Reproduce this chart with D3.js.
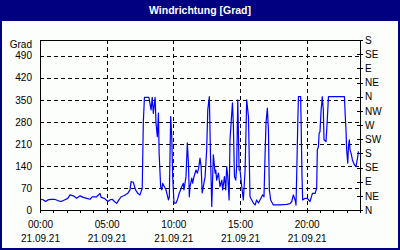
<!DOCTYPE html>
<html>
<head>
<meta charset="utf-8">
<script src="https://cdn.jsdelivr.net/npm/d3@7"></script>
<style>
  body { margin: 0; background: #000080; }
  svg { display: block; }
  text { font-family: "Liberation Sans", Arial, sans-serif; }
</style>
</head>
<body>
<div id="chart"></div>
<script>
// ---------------------------------------------------------------------------
// Data
// ---------------------------------------------------------------------------
const day = "2021-09-21";
const times = [
  "00:05","00:15","00:25","00:35","00:50","01:05","01:20","01:35","01:50","02:05",
  "02:15","02:30","02:45","03:00","03:15","03:30","03:45","03:55","04:15","04:30",
  "04:35","04:50","05:05","05:15","05:25","05:35","05:45","05:55","06:05","06:20",
  "06:35","06:45","06:50","07:00","07:10","07:20","07:30","07:40","07:45","07:50",
  "08:00","08:10","08:20","08:25","08:30","08:38","08:42","08:48","08:53","08:56",
  "09:03","09:08","09:12","09:20","09:27","09:38","09:42","09:48","09:53","09:57",
  "10:03","10:12","10:18","10:27","10:38","10:45","10:48","10:57","11:03","11:08",
  "11:12","11:15","11:23","11:27","11:33","11:42","11:48","11:54","12:00","12:05",
  "12:10","12:15","12:23","12:30","12:35","12:42","12:47","12:53","13:00","13:08",
  "13:11","13:15","13:23","13:30","13:38","13:42","13:50","13:56","14:00","14:05",
  "14:11","14:15","14:20","14:26","14:30","14:35","14:41","14:45","14:50","14:56",
  "15:00","15:08","15:15","15:23","15:30","15:38","15:45","15:53","16:00","16:08",
  "16:15","16:23","16:30","16:42","16:48","16:53","16:57","17:03","17:08","17:12",
  "17:18","17:30","18:00","18:30","18:45","18:53","19:00","19:08","19:12","19:15",
  "19:20","19:23","19:33","19:35","19:39","19:42","19:53","20:03","20:15","20:26",
  "20:38","20:45","20:48","20:53","20:56","21:00","21:05","21:08","21:10","21:15",
  "21:18","21:27","21:32","21:35","21:38","22:00","22:30","22:50","22:53","22:57",
  "23:00","23:05","23:08","23:12","23:15","23:20","23:26","23:35","23:42","23:50",
  "23:53"
];
const values = [
  34, 32, 27, 32, 34, 34, 30, 27, 32, 37,
  48, 45, 37, 45, 40, 37, 34, 42, 42, 53,
  40, 37, 27, 32, 34, 27, 21, 32, 42, 46,
  53, 64, 90, 88, 64, 53, 48, 69, 280, 358,
  358, 358, 318, 358, 307, 358, 276, 233, 308, 181,
  74, 64, 85, 74, 64, 32, 42, 297, 233, 106,
  22, 22, 32, 54, 74, 85, 64, 106, 213, 149,
  42, 74, 101, 85, 106, 127, 117, 133, 165, 138,
  54, 74, 106, 191, 318, 360, 180, 11, 175, 117,
  127, 95, 117, 74, 95, 64, 106, 64, 138, 106,
  32, 223, 276, 340, 276, 106, 95, 138, 350, 127,
  127, 74, 32, 127, 350, 297, 42, 32, 22, 16,
  32, 22, 32, 48, 42, 181, 276, 324, 254, 64,
  32, 16, 16, 18, 20, 27, 48, 32, 16, 106,
  276, 360, 360, 276, 106, 32, 37, 37, 27, 53,
  53, 69, 191, 201, 244, 249, 318, 339, 360, 318,
  223, 217, 276, 318, 360, 360, 360, 360, 308, 254,
  191, 149, 201, 223, 191, 180, 159, 143, 138, 170,
  186
];
const leftTicks = [0, 70, 140, 210, 280, 350, 420, 490];
const rightTicks = [0, 45, 90, 135, 180, 225, 270, 315, 360, 405, 450, 495, 540];
const rightLabels = ["N", "NE", "E", "SE", "S", "SW", "W", "NW", "N", "NE", "E", "SE", "S"];
const title = "Windrichtung [Grad]";
const unit = "Grad";

// ---------------------------------------------------------------------------
// Set up
// ---------------------------------------------------------------------------
const width = 400, height = 250;
const plot = { left: 40, right: 360, top: 40, bottom: 210 };

const parse = d3.timeParse("%Y-%m-%d %H:%M");
const data = times.map((t, i) => ({ date: parse(day + " " + t), value: values[i] }));

const svg = d3.select("#chart").append("svg")
  .attr("width", width)
  .attr("height", height);

// frame + title bar
svg.append("rect").attr("width", width).attr("height", height).attr("fill", "#000080");
svg.append("rect")
  .attr("x", 2).attr("y", 21)
  .attr("width", width - 4).attr("height", height - 23)
  .attr("fill", "#fbfefb");
svg.append("text")
  .attr("x", width / 2).attr("y", 14)
  .attr("text-anchor", "middle")
  .attr("fill", "white")
  .style("font-size", "10.5px")
  .style("font-weight", "bold")
  .text(title);

// scales
const xScale = d3.scaleTime()
  .domain([parse(day + " 00:00"), d3.timeDay.offset(parse(day + " 00:00"), 1)])
  .range([plot.left, plot.right]);

const yScale = d3.scaleLinear()
  .domain([0, 540])
  .range([plot.bottom, plot.top]);

// grid
const grid = svg.append("g")
  .attr("stroke", "black")
  .attr("stroke-dasharray", "4,3")
  .attr("shape-rendering", "crispEdges");

grid.selectAll(".hg").data(leftTicks.slice(1)).join("line")
  .attr("x1", plot.left).attr("x2", plot.right)
  .attr("y1", d => Math.round(yScale(d)) + 0.5)
  .attr("y2", d => Math.round(yScale(d)) + 0.5);

const gridHours = [5, 10, 15, 20].map(h => d3.timeHour.offset(xScale.domain()[0], h));
grid.selectAll(".vg").data(gridHours).join("line")
  .attr("x1", d => Math.round(xScale(d)) + 0.5)
  .attr("x2", d => Math.round(xScale(d)) + 0.5)
  .attr("y1", plot.top).attr("y2", plot.bottom);

// top border
svg.append("line")
  .attr("x1", plot.left).attr("x2", plot.right)
  .attr("y1", plot.top + 0.5).attr("y2", plot.top + 0.5)
  .attr("stroke", "black");

// line
const line = d3.line()
  .x(d => xScale(d.date))
  .y(d => yScale(d.value));

svg.append("path")
  .datum(data)
  .attr("fill", "none")
  .attr("stroke", "#0000ff")
  .attr("stroke-width", 1.2)
  .attr("stroke-linejoin", "round")
  .attr("d", line);

// -------------------------------------------------------------------
// Axes
// -------------------------------------------------------------------
const fmt = d3.timeFormat("%H:%M");
const xAxis = d3.axisBottom(xScale)
  .tickValues(d3.timeHour.range(xScale.domain()[0], d3.timeHour.offset(xScale.domain()[1], 1)))
  .tickSize(3)
  .tickSizeOuter(0)
  .tickPadding(8)
  .tickFormat(d => (d.getHours() % 5 === 0 && d.getDate() === 21) ? fmt(d) : "");

const xg = svg.append("g")
  .attr("transform", "translate(0," + plot.bottom + ")")
  .call(xAxis);
xg.selectAll(".tick").filter(d => d.getHours() % 5 === 0 && d.getDate() === 21)
  .append("text")
  .attr("y", 25)
  .attr("dy", "0.71em")
  .attr("fill", "black")
  .text("21.09.21");

const yAxis = d3.axisLeft(yScale)
  .tickValues(leftTicks)
  .tickSize(0)
  .tickPadding(8);

const yg = svg.append("g")
  .attr("transform", "translate(" + plot.left + ",0)")
  .call(yAxis);

svg.append("text")
  .attr("x", plot.left - 8).attr("y", 45)
  .attr("dy", "0.32em")
  .attr("text-anchor", "end")
  .text(unit);

const rAxis = d3.axisRight(yScale)
  .tickValues(rightTicks)
  .tickSizeOuter(0)
  .tickSizeInner(3)
  .tickPadding(2)
  .tickFormat((d, i) => rightLabels[i]);

const rg = svg.append("g")
  .attr("transform", "translate(" + plot.right + ",0)")
  .call(rAxis);
rg.selectAll(".tick line").attr("x1", -3);

svg.selectAll(".tick text").style("font-size", "10px").attr("fill", "black");
svg.selectAll("g text").style("font-family", "\"Liberation Sans\", Arial, sans-serif");
svg.selectAll(".domain, .tick line").attr("shape-rendering", "crispEdges");
svg.selectAll("text").filter(function() { return !this.style.fontSize; }).style("font-size", "10px");
</script>
</body>
</html>
